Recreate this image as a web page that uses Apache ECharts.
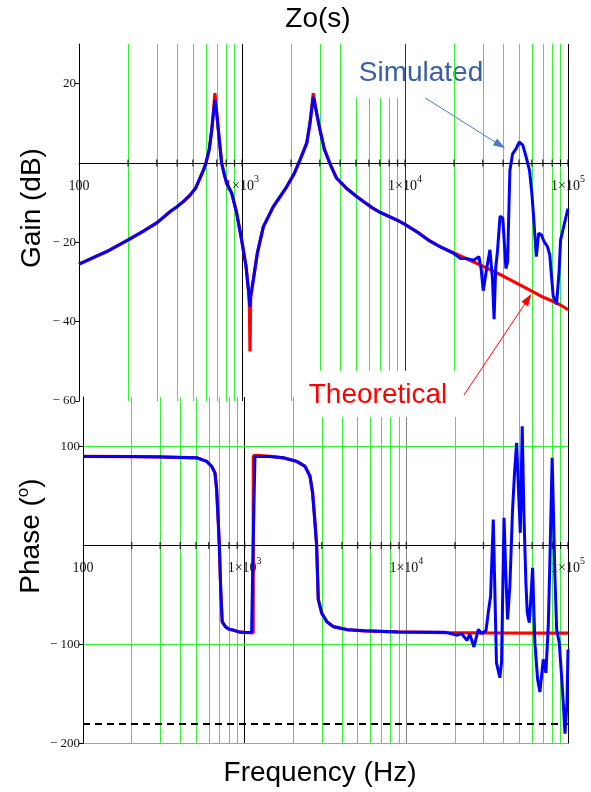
<!DOCTYPE html>
<html><head><meta charset="utf-8">
<script src="https://cdn.jsdelivr.net/npm/echarts@6/dist/echarts.min.js"></script>
<style>html,body{margin:0;padding:0;background:#fff}#c{width:591px;height:792px}</style>
</head><body><div id="c"></div>
<script>
// ---------- DATA ----------
const decadeTicks = [100, 1000, 10000, 100000];
const minorTicks = [200,300,400,500,600,700,800,900,
  2000,3000,4000,5000,6000,7000,8000,9000,
  20000,30000,40000,50000,60000,70000,80000,90000];

const gainTickValues = [20, -20, -40, -60];
const phaseTickValues = [100, -100, -200];
const phaseRefDeg = -180;

const gainTheoFreq = [100,150,200,250,300,361,400,440,480,520,552,580,601,630,652,667,682,700,716,733,750,780,805,865,927,995,1059,1100,1110,1120,1130,1173,1241,1351,1556,1880,2100,2270,2495,2612,2737,2872,3011,3200,3467,3800,4407,5000,5600,6300,7000,8000,9060,10000,12000,14000,16400,20000,24000,30000,40000,50000,60000,70000,80000,90000,100000];
const gainTheoDb = [-25.5,-22.2,-19.4,-17.1,-15.1,-12.3,-11.0,-9.6,-8.1,-6.3,-3.8,-1.8,0,3.5,8.3,12.5,17.6,12.5,8.3,4.1,0,-3,-5.1,-7.6,-12.6,-19.4,-26.1,-32.8,-36,-47.5,-34,-29.5,-22.8,-16.1,-11.0,-6.0,-2.5,0.8,5.0,10,17.6,12.5,8.3,3.5,-0.2,-3.8,-6.5,-8.3,-9.8,-11.3,-12.4,-13.5,-14.5,-15.5,-17.5,-19.5,-21.1,-22.7,-24.2,-26.0,-28.5,-30.6,-32.3,-33.8,-34.8,-35.8,-37];

const gainSimFreq = [100,150,200,250,300,361,400,440,480,520,552,580,601,630,652,667,682,700,716,733,750,780,805,865,927,995,1059,1100,1110,1120,1130,1173,1241,1351,1556,1880,2100,2270,2495,2612,2737,2872,3011,3200,3467,3800,4407,5000,5600,6300,7000,8000,9060,10000,12000,14000,16400,19900,21900,24000,26400,28400,29300,30200,31700,33200,34400,35200,36000,36900,38300,39800,41600,42600,44000,45700,48000,50300,52800,55400,58100,60100,61800,63900,66100,68600,71300,74800,77300,81100,85100,88100,90100,93600,96800,100000];
const gainSimDb = [-25.5,-22.2,-19.4,-17.1,-15.1,-12.3,-11.0,-9.6,-8.1,-6.3,-3.8,-1.8,0,3.5,8.3,12.5,15.9,12.5,8.3,4.1,0,-3,-5.1,-7.6,-12.6,-19.4,-26.1,-32.8,-34.5,-36.2,-33.5,-29.5,-22.8,-16.1,-11.0,-6.0,-2.5,0.8,5.0,10,16.7,12.5,8.3,3.5,-0.2,-3.8,-6.5,-8.3,-9.8,-11.3,-12.4,-13.5,-14.5,-15.5,-17.5,-19.5,-21.1,-22.8,-24.1,-24.1,-24.5,-23.6,-26.6,-32.2,-26.6,-21.9,-29.2,-39.4,-26.6,-22.4,-13.4,-13.9,-26.6,-24.9,-1.9,2.3,3.6,5.3,4.5,1.5,-1.9,-7.9,-14.7,-23.6,-17.7,-18.1,-19.8,-21.1,-23.2,-33.5,-35.6,-27.5,-19.4,-16.4,-13.9,-11.5];

const phaseTheoFreq = [100,200,300,400,505,582,625,655,671,687,697,711,726,760,800,851,922,1000,1129,1131,1186,1432,1733,2096,2362,2535,2633,2722,2787,2853,3000,3225,3545,4295,5470,8850,17300,30000,100000];
const phaseTheoDeg = [90,89.8,89.5,89,88.6,85,80,73.4,56.6,23,0,-44.4,-77,-82,-84.5,-85.5,-87.3,-87.8,-88.3,90.5,91,90,88.6,85,80,70,53,23,0,-54.5,-68.5,-77,-82,-85,-86.2,-87.3,-88,-88.3,-88.5];

const phaseSimFreq = [100,200,300,400,505,582,625,655,671,687,697,711,726,760,800,851,922,1000,1104,1130,1158,1186,1432,1733,2096,2362,2535,2633,2722,2787,2853,3000,3225,3545,4295,5470,8850,17300,20700,22000,23700,24700,26200,27900,29200,31100,32100,33200,34500,36100,37900,38800,40200,41300,42300,43700,45400,46700,48100,49300,50700,52100,53300,54900,56000,57600,58700,60400,62400,64900,67000,70300,73000,75500,77300,79800,83000,85100,88300,91300,94000,95800,98500,100000];
const phaseSimDeg = [90,89.8,89.5,89,88.6,85,80,73.4,56.6,23,0,-44.4,-77,-82,-84.5,-85.5,-87.3,-87.8,-87.6,6,90,91,90,88.6,85,80,70,53,23,0,-54.5,-68.5,-77,-82,-85,-86.2,-87.3,-87.5,-90.6,-89,-95.8,-89.6,-102.5,-84.8,-88.9,-86,-68,-51.2,26.3,-118.5,-133.6,-118,28,-31,-74.7,-41,36.4,73.4,103.7,60,12.8,120.5,36.4,-37.7,-68,-78,-58,-22.5,-98.3,-135.4,-148,-115,-128.6,-81.5,-14,88.6,-31,-84.8,-98.3,-132,-165.7,-190,-160,-105];

// ---------- LAYOUT ----------
const G0 = {left: 79, top: 44, width: 489, height: 357, yMin: -60, yMax: 30};
const G1 = {left: 83, top: 397, width: 485, height: 346.5, yMin: -200, yMax: 150};
const zeroOffset = g => -g.height * (0 - g.yMin) / (g.yMax - g.yMin);

// ---------- BUILD ----------
const pairs = (xs, ys) => xs.map((x, i) => [x, ys[i]]);
const GREEN = '#33f033';
const serif = 'Liberation Serif';
const sans = 'Liberation Sans';

function vline(f, y0, y1, color, width) {
  return [{coord: [f, y0], lineStyle: {color: color, width: width || 1, type: 'solid'}}, {coord: [f, y1]}];
}
const inRange = (f, a, b) => f >= a && f <= b;

const topLines = minorTicks.map(f => vline(f, inRange(f, 5000, 9000) ? 16.4 : 30, inRange(f, 3000, 20000) ? -52.4 : -60, GREEN));
topLines.push(vline(1000, 30, -60, '#000'));
topLines.push(vline(10000, 30, -52.4, '#333'));
topLines.push(vline(100000, 30, -60, '#000'));

const botLines = minorTicks.map(f => vline(f, inRange(f, 3000, 20000) ? 130 : 150, -200, GREEN));
botLines.push(vline(1000, 150, -200, '#000'));
botLines.push(vline(10000, 130, -200, '#888'));
botLines.push(vline(100000, 150, -200, '#000'));
phaseTickValues.forEach(v => botLines.push({yAxis: v, lineStyle: {color: GREEN, width: 1, type: 'solid'}}));
botLines.push({yAxis: phaseRefDeg, lineStyle: {color: '#000', width: 2, type: [7, 5]}});

const allTicks = minorTicks.concat(decadeTicks.slice(1)).map(f => [f, 0]);

const xLabel = {
  margin: 11,
  fontFamily: serif, fontSize: 14, color: '#111',
  showMinLabel: true, showMaxLabel: true,
  formatter: v => {
    const e = Math.round(Math.log10(v));
    return e === 2 ? '{b|100}' : '{b|1×10}{s|' + e + '}';
  },
  rich: {
    b: {fontFamily: serif, fontSize: 14, color: '#111', lineHeight: 19, verticalAlign: 'bottom'},
    s: {fontFamily: serif, fontSize: 10, color: '#111', lineHeight: 11, verticalAlign: 'top'}
  }
};
const yFmt = v => v < 0 ? '\u2212 ' + Math.abs(v) : String(v);

function xAxisFor(i, g) {
  return {
    type: 'log', logBase: 10, min: 100, max: 100000, gridIndex: i, z: 2,
    position: 'bottom', offset: zeroOffset(g),
    axisLine: {onZero: false, lineStyle: {color: '#000', width: 1}},
    axisTick: {show: false}, splitLine: {show: false}, minorTick: {show: false},
    axisLabel: xLabel
  };
}
function yAxisFor(i, g, interval, ticks) {
  return {
    type: 'value', gridIndex: i, min: g.yMin, max: g.yMax, interval: interval, z: 2,
    axisLine: {show: true, onZero: false, lineStyle: {color: '#000', width: 1}},
    axisTick: {show: true, length: 4, customValues: ticks, lineStyle: {color: '#000'}},
    axisLabel: {customValues: ticks, formatter: yFmt, margin: 3, fontFamily: serif, fontSize: 13, color: '#111'},
    splitLine: {show: false}
  };
}

const markBase = {silent: true, symbol: 'none', label: {show: false}, animation: false, emphasis: {disabled: true},
  lineStyle: {color: GREEN, width: 1, type: 'solid'}};

const option = {
  animation: false,
  backgroundColor: '#fff',
  grid: [
    {left: G0.left, top: G0.top, width: G0.width, height: G0.height},
    {left: G1.left, top: G1.top, width: G1.width, height: G1.height}
  ],
  xAxis: [xAxisFor(0, G0), xAxisFor(1, G1)],
  yAxis: [yAxisFor(0, G0, 20, gainTickValues), yAxisFor(1, G1, 100, phaseTickValues)],
  graphic: [
    {type: 'text', x: 318, y: 19, style: {text: 'Zo(s)', fontFamily: sans, fontSize: 28, fill: '#000', textAlign: 'center', textVerticalAlign: 'middle'}},
    {type: 'text', x: 320, y: 773, style: {text: 'Frequency (Hz)', fontFamily: sans, fontSize: 28, fill: '#000', textAlign: 'center', textVerticalAlign: 'middle'}},
    {type: 'text', x: 32, y: 208, rotation: Math.PI / 2, style: {text: 'Gain (dB)', fontFamily: sans, fontSize: 28, fill: '#000', textAlign: 'center', textVerticalAlign: 'middle'}},
    {type: 'text', x: 30, y: 536, rotation: Math.PI / 2, style: {text: '{m|Phase (}{s|o}{m|)}', textAlign: 'center', textVerticalAlign: 'middle',
      rich: {m: {fontFamily: sans, fontSize: 28, fill: '#000', color: '#000', lineHeight: 30, verticalAlign: 'bottom'},
             s: {fontFamily: sans, fontSize: 17, fill: '#000', color: '#000', lineHeight: 24, verticalAlign: 'top'}}}},
    {type: 'text', x: 421, y: 73, style: {text: 'Simulated', fontFamily: sans, fontSize: 28, fill: '#3a5fa5', textAlign: 'center', textVerticalAlign: 'middle'}},
    {type: 'text', x: 378, y: 395, style: {text: 'Theoretical', fontFamily: sans, fontSize: 28, fill: '#ff0000', textAlign: 'center', textVerticalAlign: 'middle'}}
  ],
  series: [
    {type: 'line', xAxisIndex: 0, yAxisIndex: 0, data: [], silent: true,
      markLine: Object.assign({z: 1, data: topLines}, markBase)},
    {type: 'line', xAxisIndex: 1, yAxisIndex: 1, data: [], silent: true,
      markLine: Object.assign({z: 1, data: botLines}, markBase)},
    {type: 'scatter', xAxisIndex: 0, yAxisIndex: 0, data: allTicks, symbol: 'rect', symbolSize: [1.3, 7], itemStyle: {color: '#000'}, z: 2, silent: true},
    {type: 'scatter', xAxisIndex: 1, yAxisIndex: 1, data: allTicks, symbol: 'rect', symbolSize: [1.3, 7], itemStyle: {color: '#000'}, z: 2, silent: true},
    {name: 'Theoretical gain', type: 'line', xAxisIndex: 0, yAxisIndex: 0, data: pairs(gainTheoFreq, gainTheoDb), showSymbol: false, z: 3,
      lineStyle: {color: '#ff0000', width: 3.2}, itemStyle: {color: '#ff0000'}},
    {name: 'Simulated gain', type: 'line', xAxisIndex: 0, yAxisIndex: 0, data: pairs(gainSimFreq, gainSimDb), showSymbol: false, z: 4,
      lineStyle: {color: '#0000ff', width: 3}, itemStyle: {color: '#0000ff'}},
    {name: 'Theoretical phase', type: 'line', xAxisIndex: 1, yAxisIndex: 1, data: pairs(phaseTheoFreq, phaseTheoDeg), showSymbol: false, z: 3,
      lineStyle: {color: '#ff0000', width: 3.2}, itemStyle: {color: '#ff0000'}},
    {name: 'Simulated phase', type: 'line', xAxisIndex: 1, yAxisIndex: 1, data: pairs(phaseSimFreq, phaseSimDeg), showSymbol: false, z: 4,
      lineStyle: {color: '#0000ff', width: 3}, itemStyle: {color: '#0000ff'}},
    {type: 'line', xAxisIndex: 0, yAxisIndex: 0, data: [], silent: true,
      markLine: Object.assign({}, markBase, {z: 6, symbol: ['none', 'triangle'], symbolSize: [8, 12],
        data: [
          [{coord: [13300, 16.4], lineStyle: {color: '#4a78c4', width: 1, type: 'solid'}, itemStyle: {color: '#4a78c4'}}, {coord: [38300, 4.5]}],
          [{coord: [23000, -58.5], lineStyle: {color: '#ff0000', width: 1, type: 'solid'}, itemStyle: {color: '#ff0000'}}, {coord: [56900, -34.3]}]
        ]})}
  ]
};
const chart = echarts.init(document.getElementById('c'), null, {renderer: 'canvas'});
chart.setOption(option);
</script></body></html>
